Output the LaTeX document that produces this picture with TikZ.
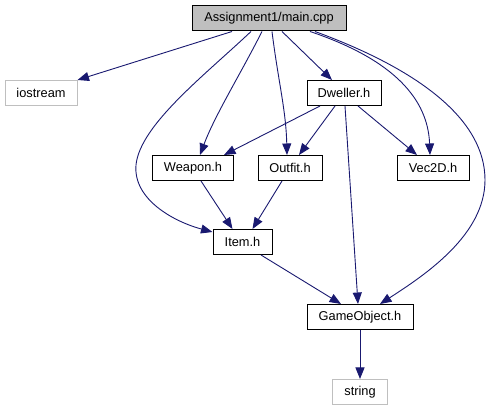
\documentclass[tikz,border=0pt]{standalone}
\usepackage{fontspec}
\setmainfont{Liberation Sans}
\usetikzlibrary{arrows.meta}
\definecolor{edgeblue}{HTML}{191970}
\definecolor{boxgray}{HTML}{BFBFBF}
\tikzset{
  box/.style={draw=black, line width=1pt, fill=white, inner sep=0pt, minimum height=25pt, font=\fontsize{12.8}{14}\selectfont},
  ghost/.style={box, draw=boxgray},
  rootbox/.style={box, fill=boxgray},
  dep/.style={draw=edgeblue, line width=0.9pt, -{Triangle[length=11.5pt,width=9pt]}}
}
\begin{document}
\begin{tikzpicture}[x=1pt,y=-1pt]
\useasboundingbox (0,0) rectangle (491,411);
\node[rootbox, minimum width=154pt] (main) at (269,18.5) {Assignment1/main.cpp};
\node[ghost, minimum width=72pt] (iostream) at (41,93) {iostream};
\node[box, minimum width=74pt] (dweller) at (344,93) {Dweller.h};
\node[box, minimum width=81pt] (weapon) at (193,168) {Weapon.h};
\node[box, minimum width=64pt] (outfit) at (290,168) {Outfit.h};
\node[box, minimum width=72pt] (vec) at (433,168) {Vec2D.h};
\node[box, minimum width=59pt] (item) at (242.5,242) {Item.h};
\node[box, minimum width=106pt] (go) at (360,317) {GameObject.h};
\node[ghost, minimum width=55pt] (string) at (360,392) {string};

\draw[dep] ([xshift=-37pt]main.south) -- (iostream.north east);
\draw[dep] ([xshift=-18pt]main.south) .. controls (205,75) and (140,125) .. (136,165)
  .. controls (133,200) and (175,222) .. ([yshift=-3pt]item.north west);
\draw[dep] ([xshift=-7pt]main.south) .. controls (240,75) and (215,115) .. ([xshift=7pt]weapon.north);
\draw[dep] ([xshift=3pt]main.south) .. controls (278,80) and (286,110) .. ([xshift=-3pt]outfit.north);
\draw[dep] ([xshift=13pt]main.south) -- ([xshift=-12pt]dweller.north);
\draw[dep] ([xshift=41pt]main.south) .. controls (395,60) and (428,100) .. ([xshift=-3pt]vec.north);
\draw[dep] ([xshift=46pt]main.south) .. controls (420,70) and (485,120) .. (485,180)
  .. controls (485,235) and (425,275) .. ([xshift=20pt]go.north);
\draw[dep] ([xshift=-24pt]dweller.south) -- ([xshift=31pt]weapon.north);
\draw[dep] ([xshift=-9pt]dweller.south) -- ([xshift=9pt]outfit.north);
\draw[dep] ([xshift=1pt]dweller.south) -- ([xshift=-2pt]go.north);
\draw[dep] ([xshift=14pt]dweller.south) -- ([xshift=-16pt]vec.north);
\draw[dep] ([xshift=8pt]weapon.south) -- ([xshift=-10pt]item.north);
\draw[dep] ([xshift=-8pt]outfit.south) -- ([xshift=10pt]item.north);
\draw[dep] ([xshift=18.5pt]item.south) -- ([xshift=-19pt]go.north);
\draw[dep] (go.south) -- (string.north);
\end{tikzpicture}
\end{document}
